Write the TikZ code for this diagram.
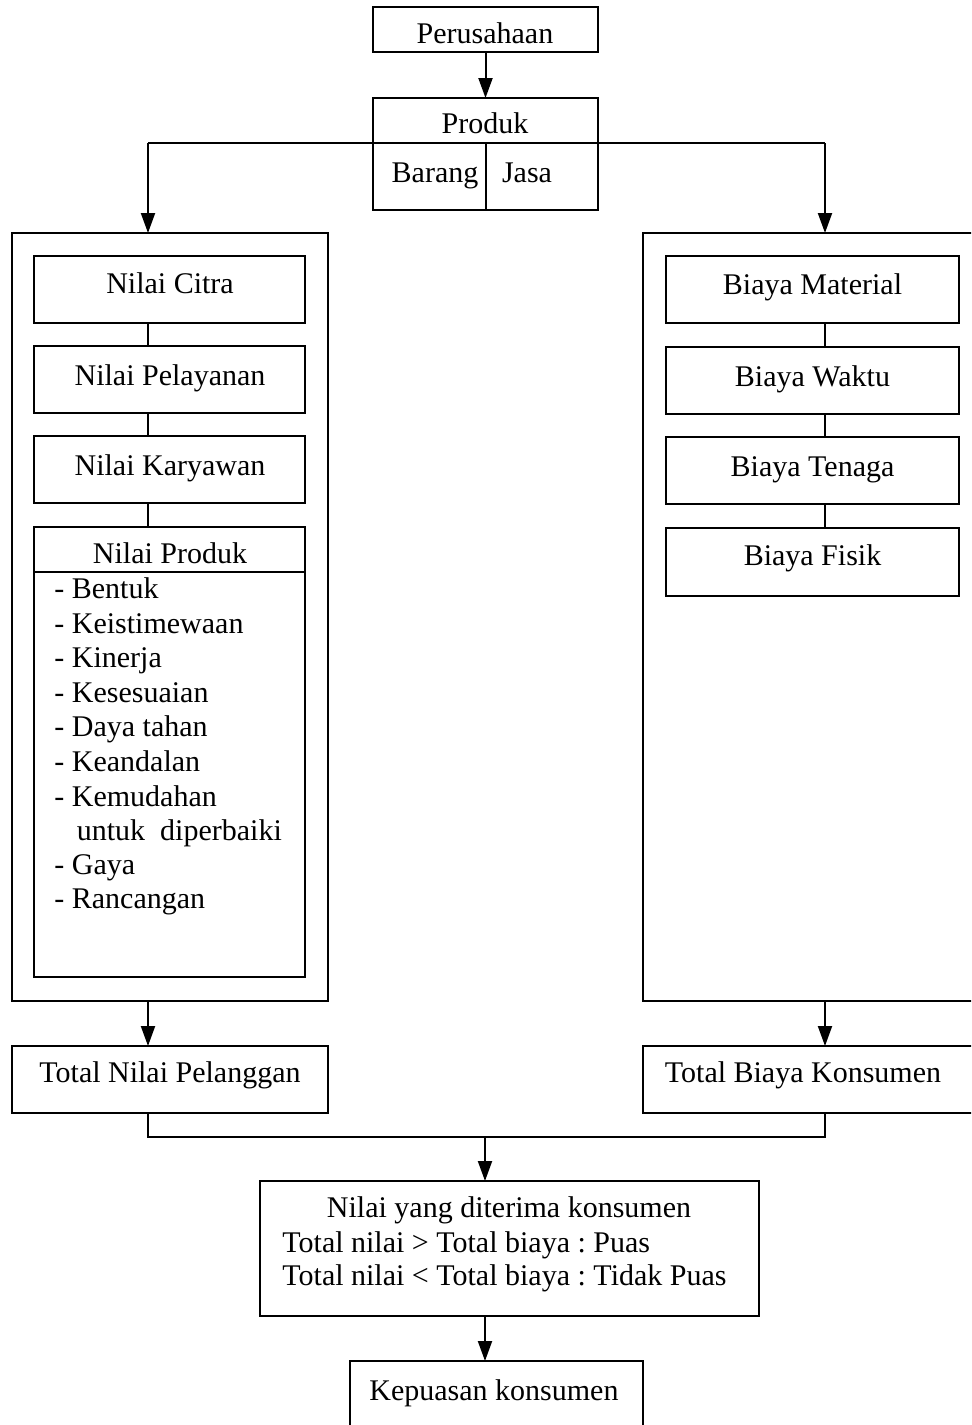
\documentclass[tikz,border=0pt]{standalone}
\usepackage{fontspec}
\setmainfont{Liberation Serif}
\usetikzlibrary{arrows.meta}
\frenchspacing
\begin{document}
\begin{tikzpicture}[x=0.5pt,y=-0.5pt,
  box/.style={draw, line width=1pt, inner sep=0pt, outer sep=0pt},
  txt/.style={anchor=base, inner sep=0pt, font=\fontsize{15}{18}\selectfont},
  txtl/.style={anchor=base west, inner sep=0pt, font=\fontsize{15}{18}\selectfont},
  conn/.style={line width=1pt},
  arr/.style={line width=1pt, -{Triangle[width=7pt,length=10pt]}}]
\useasboundingbox (0,0) rectangle (971,1425);
\clip (0,0) rectangle (971,1425);
% top
\node[box, minimum width=112.5pt, minimum height=22.5pt] (per) at (485.5,29.5) {};
\node[txt] (perT) at (485,43) {Perusahaan};
\node[box, minimum width=112.5pt, minimum height=56pt] (prod) at (485.5,154) {};
\coordinate (pl) at (148,143);
\coordinate (pr) at (825,143);
\coordinate (pm) at (486,143);
\draw[conn] (pl) -- (pr);
\draw[conn] (pm) -- (pm |- prod.south);
\node[txt] (prodT) at (485,133) {Produk};
\node[txt] (barT) at (435,182) {Barang};
\node[txt] (jasT) at (527,182) {Jasa};
\draw[arr] (per.south) -- (prod.north);
% big boxes
\node[box, minimum width=158pt, minimum height=384pt] (lbig) at (170,617) {};
\node[box, minimum width=168.5pt, minimum height=384pt] (rbig) at (811.5,617) {};
\draw[arr] (pl) -- (pl |- lbig.north);
\draw[arr] (pr) -- (pr |- rbig.north);
% left inner
\node[box, minimum width=135.5pt, minimum height=33.5pt] (nc) at (169.5,289.5) {};
\node[box, minimum width=135.5pt, minimum height=33.5pt] (np) at (169.5,379.5) {};
\node[box, minimum width=135.5pt, minimum height=33.5pt] (nk) at (169.5,469.5) {};
\node[box, minimum width=135.5pt, minimum height=225pt] (nprod) at (169.5,752) {};
\coordinate (dv) at (0,572);
\draw[conn] (nprod.west |- dv) -- (nprod.east |- dv);
\node[txt] (ncT) at (170,293) {Nilai Citra};
\node[txt] (npT) at (170,385) {Nilai Pelayanan};
\node[txt] (nkT) at (170,475) {Nilai Karyawan};
\node[txt] (nprT) at (170,563) {Nilai Produk};
\draw[conn] (nc.south -| pl) -- (np.north -| pl);
\draw[conn] (np.south -| pl) -- (nk.north -| pl);
\draw[conn] (nk.south -| pl) -- (nprod.north -| pl);
\node[txtl] (l1) at (54,598) {- Bentuk};
\node[txtl] (l2) at (54,633) {- Keistimewaan};
\node[txtl] (l3) at (54,667) {- Kinerja};
\node[txtl] (l4) at (54,702) {- Kesesuaian};
\node[txtl] (l5) at (54,736.5) {- Daya tahan};
\node[txtl] (l6) at (54,771) {- Keandalan};
\node[txtl] (l7) at (54,806) {- Kemudahan};
\node[txtl] (l8) at (76.5,840) {untuk\ \ diperbaiki};
\node[txtl] (l9) at (54,874) {- Gaya};
\node[txtl] (l10) at (54,908.5) {- Rancangan};
% right inner
\node[box, minimum width=146.5pt, minimum height=33.5pt] (bm) at (812.5,289.5) {};
\node[box, minimum width=146.5pt, minimum height=33.5pt] (bw) at (812.5,380.5) {};
\node[box, minimum width=146.5pt, minimum height=33.5pt] (bt) at (812.5,470.5) {};
\node[box, minimum width=146.5pt, minimum height=34pt] (bf) at (812.5,562) {};
\node[txt] (bmT) at (812.5,294) {Biaya Material};
\node[txt] (bwT) at (812.5,386) {Biaya Waktu};
\node[txt] (btT) at (812.5,476) {Biaya Tenaga};
\node[txt] (bfT) at (812.5,565) {Biaya Fisik};
\draw[conn] (bm.south -| pr) -- (bw.north -| pr);
\draw[conn] (bw.south -| pr) -- (bt.north -| pr);
\draw[conn] (bt.south -| pr) -- (bf.north -| pr);
% totals
\node[box, minimum width=158pt, minimum height=33.5pt] (tnp) at (170,1079.5) {};
\node[box, minimum width=168.5pt, minimum height=33.5pt] (tbk) at (811.5,1079.5) {};
\node[txt] (tnpT) at (170,1082) {Total Nilai Pelanggan};
\node[txt] (tbkT) at (803,1082) {Total Biaya Konsumen};
\draw[arr] (lbig.south -| pl) -- (tnp.north -| pl);
\draw[arr] (rbig.south -| pr) -- (tbk.north -| pr);
\coordinate (mg) at (485,1137);
\draw[conn] (tnp.south -| pl) |- (mg) -| (tbk.south -| pr);
% result
\node[box, minimum width=249.5pt, minimum height=67.5pt] (nyd) at (509.5,1248.5) {};
\node[txt] (nyd1) at (509,1217) {Nilai yang diterima konsumen};
\node[txtl] (nyd2) at (282,1252) {Total nilai > Total biaya : Puas};
\node[txtl] (nyd3) at (282,1285) {Total nilai < Total biaya : Tidak Puas};
\draw[arr] (mg) -- (mg |- nyd.north);
\node[box, minimum width=146.5pt, minimum height=39.5pt] (kep) at (496.5,1400.5) {};
\node[txt] (kepT) at (494,1400) {Kepuasan konsumen};
\draw[arr] (mg |- nyd.south) -- (mg |- kep.north);
\end{tikzpicture}
\end{document}
